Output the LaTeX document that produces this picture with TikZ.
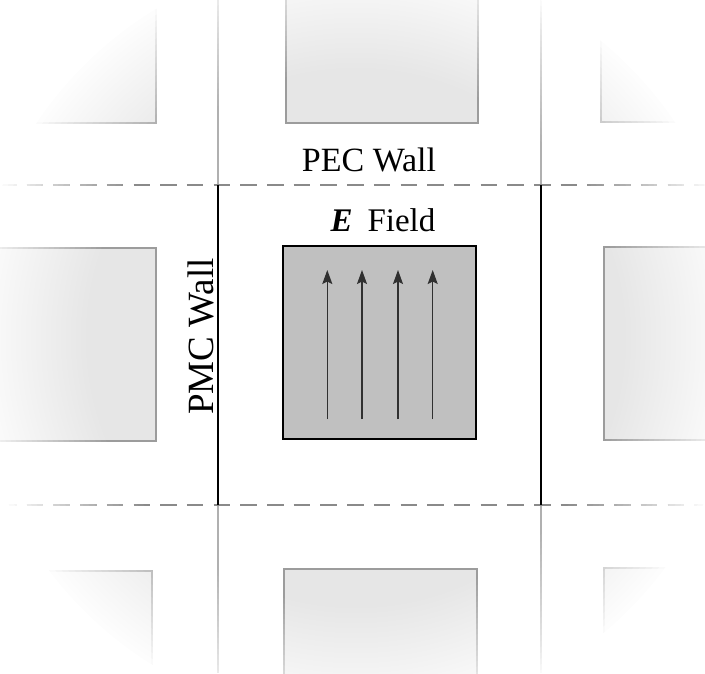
\documentclass[tikz,border=0pt]{standalone}
\usepackage{fontspec}
\setmainfont{Liberation Serif}
\usetikzlibrary{arrows.meta}
\definecolor{cellfill}{HTML}{C0C0C0}
\definecolor{outfill}{HTML}{E6E6E6}
\definecolor{outedge}{HTML}{9C9C9C}
\definecolor{outline}{HTML}{B0B0B0}
\definecolor{dashgray}{HTML}{8A8A8A}
\definecolor{arrowgray}{HTML}{303030}
\tikzset{
  outsq/.style={fill=outfill, draw=outedge, line width=1.5pt},
  cellsq/.style={fill=cellfill, draw=black, line width=1.5pt},
  gridline/.style={draw=outline, line width=1.5pt},
  wall/.style={draw=black, line width=2pt},
  pecline/.style={draw=dashgray, line width=1.3pt, dash pattern=on 16.5pt off 10.2pt},
  field/.style={draw=arrowgray, line width=1.3pt, -{Stealth[length=14pt,width=10pt,inset=2.5pt]}},
  lbl/.style={inner sep=0pt},
  fadering/.style={fill=white, even odd rule, draw=none}
}
\begin{document}
\begin{tikzpicture}[x=1pt,y=-1pt]
\useasboundingbox (0,0) rectangle (705,673);
% outer (faded) grid lines
\draw[gridline] (218,0) -- (218,673);
\draw[gridline] (541,0) -- (541,673);
\draw[pecline] (0,185) -- (705,185);
\draw[pecline] (0,505) -- (705,505);
% neighbouring cells
\draw[outsq] (-20,-80) rectangle (156,123);
\draw[outsq] (286,-80) rectangle (478,123);
\draw[outsq] (601,-80) rectangle (790,122);
\draw[outsq] (-20,248) rectangle (156,441);
\draw[outsq] (604,247) rectangle (790,440);
\draw[outsq] (-20,571) rectangle (152,760);
\draw[outsq] (284,569) rectangle (477,760);
\draw[outsq] (604,568) rectangle (790,760);
% fade to white towards the border (stacked rings)
\coordinate (fc) at (356,338);
\foreach \k in {1,...,24}{
  \pgfmathsetmacro{\rr}{265+5*\k}
  \pgfmathsetmacro{\op}{1/(25-\k)}
  \fill[fadering, fill opacity=\op] (-100,-100) rectangle (800,800) (fc) circle[radius=\rr];
}
% central cell
\coordinate (wl1) at (218,185); \coordinate (wl2) at (218,505);
\coordinate (wr1) at (541,185); \coordinate (wr2) at (541,505);
\draw[wall] (wl1) -- (wl2);
\draw[wall] (wr1) -- (wr2);
\draw[cellsq] (283,246) rectangle (476,439);
\foreach \i/\x in {1/327.3,2/362,3/398,4/432.7}{
  \coordinate (a\i) at (\x,419);
  \coordinate (b\i) at (\x,270);
  \draw[field] (a\i) -- (b\i);
}
\node[lbl, anchor=base, font=\fontsize{34}{40}\selectfont] (pec) at (369,171) {PEC Wall};
\node[lbl, anchor=base, font=\fontsize{33}{40}\selectfont] (efield) at (383,231.5) {{\bfseries\itshape E}\hspace{0.45em}Field};
\node[lbl, anchor=base, rotate=90, font=\fontsize{37}{44}\selectfont] (pmc) at (213,336.5) {PMC Wall};
\end{tikzpicture}
\end{document}
